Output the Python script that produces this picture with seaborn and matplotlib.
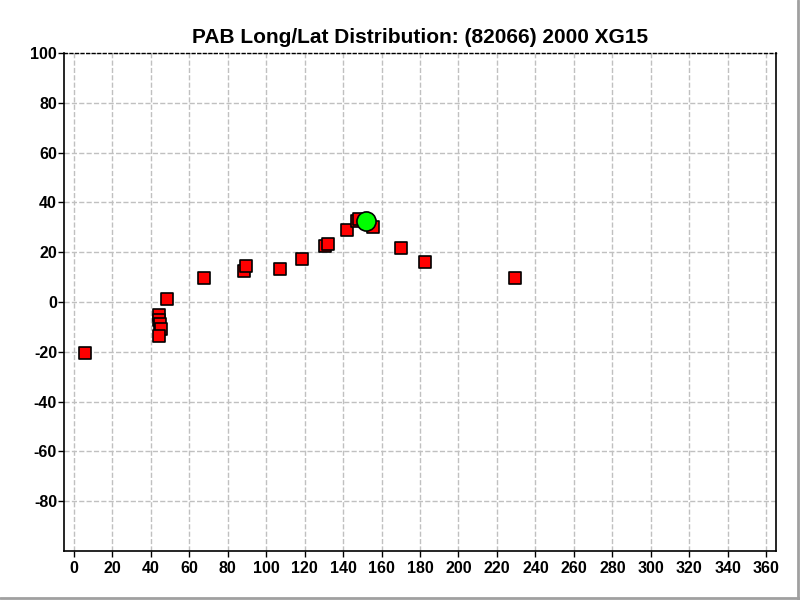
import seaborn as sns
import matplotlib.pyplot as plt
import pandas as pd
from matplotlib.lines import Line2D

lon = [6.0, 44.5, 44.6, 44.9, 45.3, 44.3, 48.3, 67.5, 88.4, 89.4, 107.3,
       118.9, 130.8, 132.1, 142.0, 147.1, 148.1, 155.5, 170.1, 182.6, 229.5]
lat = [-20.5, -5.2, -7.2, -8.8, -10.9, -13.7, 1.1, 9.8, 12.6, 14.4, 13.2,
       17.2, 22.5, 23.2, 28.8, 32.5, 33.2, 30.0, 21.6, 15.9, 9.5]

# current position
cur_lon = [152.1]
cur_lat = [32.5]

df = pd.DataFrame({'Long': lon, 'Lat': lat})
cur = pd.DataFrame({'Long': cur_lon, 'Lat': cur_lat})

sns.set_style('white')
plt.rcParams['font.family'] = ['Liberation Sans', 'DejaVu Sans']
plt.rcParams['font.weight'] = 'bold'
plt.rcParams['axes.unicode_minus'] = False
plt.rcParams['text.color'] = 'black'
plt.rcParams['xtick.color'] = 'black'
plt.rcParams['ytick.color'] = 'black'

fig = plt.figure(figsize=(8, 6), dpi=100)
# window frame on right and bottom
fig.add_artist(Line2D([0.997, 0.997], [0.0, 1.0], color='#a0a0a0', linewidth=2))
fig.add_artist(Line2D([0.0, 1.0], [0.004, 0.004], color='#a0a0a0', linewidth=2))
ax = fig.add_axes([0.080, 0.0817, 0.890, 0.830])

sns.scatterplot(data=df, x='Long', y='Lat', ax=ax, marker='s', s=75,
                color='#ff0000', edgecolor='black', linewidth=1.2, zorder=3)
sns.scatterplot(data=cur, x='Long', y='Lat', ax=ax, marker='o', s=190,
                color='#00ff00', edgecolor='black', linewidth=1.2, zorder=4)

ax.set_xlim(-5, 365)
ax.set_ylim(-100, 100)
ax.set_xticks(range(0, 361, 20))
ax.set_yticks(range(-80, 101, 20))
ax.grid(True, linestyle='--', color='#c0c0c0', linewidth=1)
ax.set_axisbelow(True)
ax.set_xlabel('')
ax.set_ylabel('')
for lbl in ax.get_xticklabels() + ax.get_yticklabels():
    lbl.set_fontweight('bold')
    lbl.set_fontsize(11.5)
    lbl.set_color('black')
ax.tick_params(axis='x', direction='out', length=4, width=1, color='black',
               bottom=True, pad=3)
ax.tick_params(axis='y', direction='out', length=4, width=1, color='black',
               left=True, pad=1)
for side in ['left', 'bottom', 'right']:
    ax.spines[side].set_color('black')
    ax.spines[side].set_linewidth(1.2)
ax.spines['top'].set_linestyle((0, (2, 2)))
ax.spines['top'].set_color('black')
ax.spines['top'].set_linewidth(1)

ax.set_title('PAB Long/Lat Distribution: (82066) 2000 XG15', fontsize=15,
             fontweight='bold', color='black', pad=7)

fig.savefig('out.png', dpi=100)
